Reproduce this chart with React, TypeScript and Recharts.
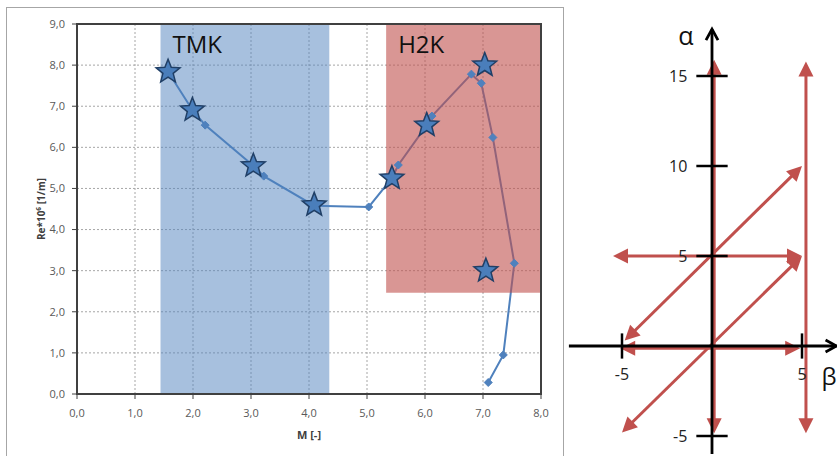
import React from 'react';
import {
  ComposedChart,
  Line,
  Scatter,
  XAxis,
  YAxis,
  CartesianGrid,
  ReferenceArea,
  ReferenceLine,
} from 'recharts';

// Re*10^6 over M, line with small diamond markers
const lineM = [1.57, 1.99, 2.21, 3.04, 3.22, 4.09, 5.03, 5.43, 5.54, 6.03, 6.12, 6.8, 6.97, 7.17, 7.54, 7.35, 7.09];
const lineRe = [7.84, 6.91, 6.54, 5.55, 5.3, 4.58, 4.55, 5.25, 5.57, 6.54, 6.76, 7.78, 7.56, 6.24, 3.18, 0.95, 0.28];

// star markers
const starM = [1.57, 1.99, 3.04, 4.09, 5.43, 6.03, 7.03, 7.05];
const starRe = [7.84, 6.91, 5.55, 4.6, 5.25, 6.54, 8.0, 3.0];

// shaded zones
const tmkM = [1.44, 4.35];
const h2kM = [5.33, 8];
const h2kRe = [2.46, 9];

const xTicks = [0, 1, 2, 3, 4, 5, 6, 7, 8];
const yTicks = [0, 1, 2, 3, 4, 5, 6, 7, 8, 9];

// alpha / beta diagram
const arrowFrom = [
  [0.12, -4.85],
  [5.22, -4.85],
  [-5.5, 5],
  [-5.1, -0.12],
  [-4.85, 0.3],
  [-5.0, -4.8],
];
const arrowTo = [
  [0.12, 15.9],
  [5.22, 15.8],
  [5.0, 5],
  [4.9, -0.12],
  [5.0, 10],
  [5.0, 5],
];
const alphaTicks = [15, 10, 5, -5];
const betaTicks = [-5, 5];

const lineData = lineM.map((m, i) => ({ m, re: lineRe[i] }));
const starData = starM.map((m, i) => ({ m, re: starRe[i] }));

const blue = '#4F81BD';
const red = '#C0504D';
const tickStyle = { fontSize: 11, fill: '#595959', fontFamily: 'Open Sans' };
const fmt = (v: number) => v.toFixed(1).replace('.', ',');

const Diamond = (p: any) => {
  const { cx, cy, index } = p;
  if (cx == null || cy == null) return <g key={index} />;
  const s = 4;
  return (
    <path
      key={index}
      d={`M${cx},${cy - s}L${cx + s},${cy}L${cx},${cy + s}L${cx - s},${cy}Z`}
      fill={blue}
      stroke={blue}
    />
  );
};

const Star = (p: any) => {
  const { cx, cy } = p;
  const pts: string[] = [];
  for (let i = 0; i < 10; i++) {
    const r = i % 2 === 0 ? 12.5 : 5.4;
    const a = -Math.PI / 2 + (i * Math.PI) / 5;
    pts.push(`${cx + r * Math.cos(a)},${cy + r * Math.sin(a)}`);
  }
  return <polygon points={pts.join(' ')} fill="#4A7EBB" stroke="#203F66" strokeWidth={1.5} />;
};

const arrowShape =
  (color: string, width: number, len: number, half: number, both: boolean, open: boolean) =>
  (p: any) => {
    const { x1, y1, x2, y2 } = p;
    const dx = x2 - x1;
    const dy = y2 - y1;
    const d = Math.hypot(dx, dy) || 1;
    const ux = dx / d;
    const uy = dy / d;
    const head = (tx: number, ty: number, sx: number, sy: number) => {
      const bx = tx - sx * len;
      const by = ty - sy * len;
      const px = -sy * half;
      const py = sx * half;
      const pts = `${bx + px},${by + py} ${tx},${ty} ${bx - px},${by - py}`;
      return open ? (
        <polyline points={pts} fill="none" stroke={color} strokeWidth={width} />
      ) : (
        <polygon points={pts} fill={color} />
      );
    };
    const back = open ? 0 : len - 2;
    return (
      <g>
        <line
          x1={x1 + ux * (both ? back : 0)}
          y1={y1 + uy * (both ? back : 0)}
          x2={x2 - ux * back}
          y2={y2 - uy * back}
          stroke={color}
          strokeWidth={width}
        />
        {both && head(x1, y1, -ux, -uy)}
        {head(x2, y2, ux, uy)}
      </g>
    );
  };

const redArrow = arrowShape(red, 3, 15, 7.5, true, false);
const blackAxis = arrowShape('#000', 2.8, 11, 6, false, true);
const tickShape = (p: any) => (
  <line x1={p.x1} y1={p.y1} x2={p.x2} y2={p.y2} stroke="#000" strokeWidth={2.5} />
);
const diagFont = { fontSize: 16, fill: '#222', fontFamily: 'Open Sans' };

export default function App() {
  return (
    <div
      style={{
        position: 'absolute',
        left: 0,
        top: 0,
        width: 837,
        height: 456,
        overflow: 'hidden',
        background: '#fff',
      }}
    >
      <div
        style={{
          position: 'absolute',
          left: 6,
          top: 7,
          width: 558,
          height: 470,
          border: '1px solid #A6A6A6',
          boxSizing: 'border-box',
        }}
      />
      <div style={{ position: 'absolute', left: 0, top: 0 }}>
        <ComposedChart width={600} height={456} margin={{ top: 24, right: 59, bottom: 32, left: 27 }}>
          <CartesianGrid stroke="#A6A6A6" strokeDasharray="2 2" />
          <XAxis
            dataKey="m"
            type="number"
            domain={[0, 8]}
            ticks={xTicks}
            tickFormatter={fmt}
            height={30}
            tick={tickStyle}
            tickMargin={10}
            tickSize={5}
            axisLine={{ stroke: '#404040', strokeWidth: 2 }}
            tickLine={{ stroke: '#404040' }}
            allowDataOverflow
            label={(p: any) => {
              const vb = p.viewBox;
              return (
                <text
                  x={vb.x + vb.width / 2}
                  y={vb.y + 45}
                  textAnchor="middle"
                  fontSize={11}
                  fontWeight="bold"
                  fill="#404040"
                  fontFamily="Open Sans"
                >
                  M [-]
                </text>
              );
            }}
          />
          <YAxis
            dataKey="re"
            type="number"
            domain={[0, 9]}
            ticks={yTicks}
            tickFormatter={fmt}
            width={50}
            tick={tickStyle}
            tickMargin={7}
            tickSize={5}
            axisLine={{ stroke: '#404040', strokeWidth: 2 }}
            tickLine={{ stroke: '#404040' }}
            allowDataOverflow
            label={(p: any) => {
              const vb = p.viewBox;
              const cx = vb.x + 14;
              const cy = vb.y + vb.height / 2;
              return (
                <text
                  x={cx}
                  y={cy}
                  transform={`rotate(-90 ${cx} ${cy})`}
                  textAnchor="middle"
                  dominantBaseline="central"
                  fontSize={10}
                  fontWeight="bold"
                  fill="#404040"
                  fontFamily="Open Sans"
                >
                  Re*10⁶ [1/m]
                </text>
              );
            }}
          />
          <ReferenceArea
            x1={tmkM[0]}
            x2={tmkM[1]}
            y1={0}
            y2={9}
            fill={blue}
            fillOpacity={0.5}
            stroke="none"
            zIndex={100}
            label={{ value: 'TMK', position: 'insideTopLeft', offset: 12, fontSize: 24, fill: '#111', fontFamily: 'Open Sans' }}
          />
          <Line
            data={lineData}
            dataKey="re"
            type="linear"
            stroke={blue}
            strokeWidth={2}
            dot={Diamond}
            activeDot={false}
            isAnimationActive={false}
          />
          <ReferenceArea
            x1={h2kM[0]}
            x2={h2kM[1]}
            y1={h2kRe[0]}
            y2={h2kRe[1]}
            fill={red}
            fillOpacity={0.6}
            stroke="none"
            zIndex={450}
            label={{ value: 'H2K', position: 'insideTopLeft', offset: 12, fontSize: 24, fill: '#111', fontFamily: 'Open Sans' }}
          />
          <Scatter data={starData} dataKey="re" shape={Star} isAnimationActive={false} />
          <ReferenceArea x1={0} x2={8} y1={0} y2={9} fill="none" stroke="#404040" strokeWidth={2} zIndex={700} />
        </ComposedChart>
      </div>
      <div style={{ position: 'absolute', left: 568, top: 0 }}>
        <ComposedChart width={297} height={454} margin={{ top: 22, right: 0, bottom: 0, left: 0 }} data={[]}>
          <XAxis dataKey="b" type="number" domain={[-8, 8.5]} hide allowDataOverflow />
          <YAxis dataKey="a" type="number" domain={[-6, 18]} hide allowDataOverflow />
          {arrowFrom.map((f, i) => (
            <ReferenceLine
              key={`arr-${i}`}
              segment={[
                { x: f[0], y: f[1] },
                { x: arrowTo[i][0], y: arrowTo[i][1] },
              ]}
              ifOverflow="visible"
              shape={redArrow}
            />
          ))}
          <ReferenceLine
            segment={[
              { x: 0, y: -6 },
              { x: 0, y: 17.6 },
            ]}
            ifOverflow="visible"
            shape={blackAxis}
            label={(p: any) => (
              <text x={p.viewBox.x - 26} y={p.viewBox.y + 16} textAnchor="middle" fontSize={25} fill="#111" fontFamily="Open Sans">
                α
              </text>
            )}
          />
          <ReferenceLine
            segment={[
              { x: -7.95, y: 0 },
              { x: 6.92, y: 0 },
            ]}
            ifOverflow="visible"
            shape={blackAxis}
            label={(p: any) => (
              <text x={p.viewBox.x + p.viewBox.width - 15} y={p.viewBox.y + 39} textAnchor="start" fontSize={24} fill="#111" fontFamily="Open Sans">
                β
              </text>
            )}
          />
          {alphaTicks.map((t) => (
            <ReferenceLine
              key={`at-${t}`}
              segment={[
                { x: -0.87, y: t },
                { x: 0.87, y: t },
              ]}
              ifOverflow="visible"
              shape={tickShape}
              label={{ value: String(t), position: 'left', offset: 9, ...diagFont }}
            />
          ))}
          {betaTicks.map((t) => (
            <ReferenceLine
              key={`bt-${t}`}
              segment={[
                { x: t, y: -0.7 },
                { x: t, y: 0.7 },
              ]}
              ifOverflow="visible"
              shape={tickShape}
              label={{ value: String(t), position: 'bottom', offset: 10, ...diagFont }}
            />
          ))}
        </ComposedChart>
      </div>
    </div>
  );
}
